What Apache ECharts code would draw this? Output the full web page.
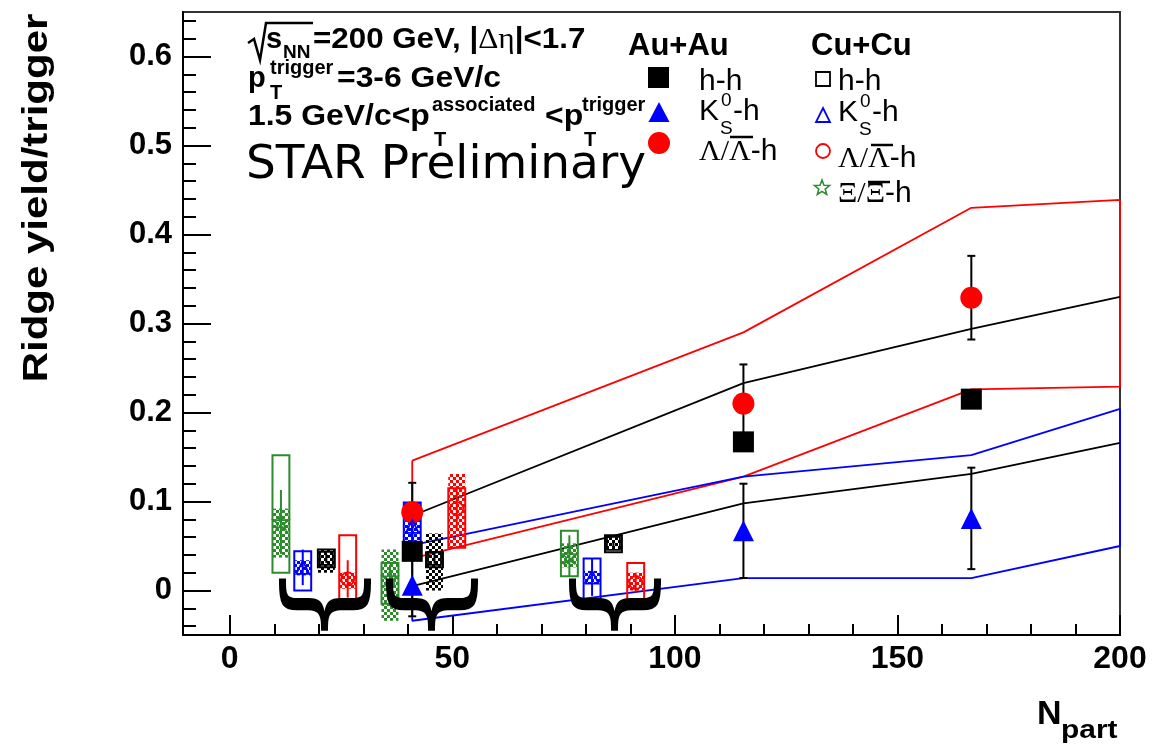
<!DOCTYPE html>
<html>
<head>
<meta charset="utf-8">
<script src="https://cdn.jsdelivr.net/npm/echarts@6/dist/echarts.min.js"></script>
<style>
html, body { margin: 0; padding: 0; background: #fff; }
#main { width: 1156px; height: 747px; }
</style>
</head>
<body>
<div id="main"></div>
<script>
// axis ticks
var xLabels = [0, 50, 100, 150, 200];
var xMinor = [0, 10, 20, 30, 40, 50, 60, 70, 80, 90, 100, 110, 120, 130, 140, 150, 160, 170, 180, 190, 200];
var yLabels = [0, 0.1, 0.2, 0.3, 0.4, 0.5, 0.6];
var yMinor = [-0.04, -0.02, 0, 0.02, 0.04, 0.06, 0.08, 0.1, 0.12, 0.14, 0.16, 0.18, 0.2, 0.22, 0.24, 0.26, 0.28,
	0.3, 0.32, 0.34, 0.36, 0.38, 0.4, 0.42, 0.44, 0.46, 0.48, 0.5, 0.52, 0.54, 0.56, 0.58, 0.6, 0.62, 0.64];

// Au+Au : [Npart, yield, error]
var auHH = [[41, 0.044, 0], [115.4, 0.167, 0], [166.6, 0.215, 0]];
var auK0s = [[41, 0.006, 0.035], [115.4, 0.067, 0.053], [166.6, 0.081, 0.057]];
var auLambda = [[41, 0.088, 0.033], [115.4, 0.210, 0.044], [166.6, 0.329, 0.047]];

// Cu+Cu : [Npart, yield, error, box low, box high, hatch low, hatch high]
var cuHH = [[21.7, 0.036, 0.005, 0.026, 0.046, 0.020, 0.046], [46, 0.036, 0.006, 0.026, 0.043, 0.0, 0.064], [86.2, 0.053, 0.003, 0.043, 0.062, 0.046, 0.060]];
var cuK0s = [[16.4, 0.026, 0.020, 0.0, 0.044, 0.017, 0.034], [41, 0.072, 0.020, 0.054, 0.099, 0.054, 0.099], [81.4, 0.015, 0.021, -0.015, 0.036, 0.008, 0.022]];
var cuLambda = [[26.5, 0.013, 0.021, -0.012, 0.062, 0.002, 0.020], [51, 0.092, 0.025, 0.048, 0.115, 0.048, 0.131], [91.2, 0.009, 0.011, -0.012, 0.031, 0.0, 0.020]];
var cuXi = [[11.5, 0.077, 0.036, 0.020, 0.152, 0.037, 0.092], [36, 0.014, 0.015, -0.015, 0.031, -0.034, 0.046], [76.3, 0.039, 0.023, 0.016, 0.067, 0.026, 0.053]];

// model bands
var bandNpart = [41, 115.4, 166.6, 200];
var lambdaHigh = [0.146, 0.290, 0.430, 0.439];
var lambdaLow = [0.036, 0.128, 0.226, 0.229];
var hhHigh = [0.084, 0.233, 0.294, 0.330];
var hhLow = [0.005, 0.098, 0.131, 0.166];
var k0sHigh = [0.051, 0.128, 0.152, 0.204];
var k0sLow = [-0.034, 0.014, 0.014, 0.050];

// centrality braces under the Cu+Cu groups
var braces = [[20.6, -0.016], [44.6, -0.016], [85.6, -0.016]];

var BOX_HALF = 1.9;
var RED = '#ff0000', BLUE = '#0000ff', BLACK = '#000000', GREEN = '#2d8a2d';
var STAR = 'path://M0,-10L2.35,-3.24L9.51,-3.09L3.8,1.24L5.88,8.09L0,4L-5.88,8.09L-3.8,1.24L-9.51,-3.09L-2.35,-3.24Z';

function hatch(color) {
	var c = document.createElement('canvas');
	c.width = 6;
	c.height = 6;
	var g = c.getContext('2d');
	g.fillStyle = color;
	g.fillRect(0, 0, 3, 3);
	g.fillRect(3, 3, 3, 3);
	return { image: c, repeat: 'repeat' };
}

function pairs(xs, ys) {
	return xs.map(function(x, i) { return [x, ys[i]]; });
}

function closedBand(hi, lo) {
	var up = pairs(bandNpart, hi);
	var down = pairs(bandNpart, lo).reverse();
	return up.concat(down, [up[0]]);
}

function bandSeries(data, color) {
	return {
		type: 'line', data: data, showSymbol: false, silent: true,
		lineStyle: { color: color, width: 1.8 }, z: 1
	};
}

function boxSeries(rows, color, lo, hi, hatched) {
	return {
		type: 'custom', data: rows, silent: true, z: 2,
		renderItem: function(params, api) {
			var x = api.value(0);
			var a = api.coord([x - BOX_HALF, api.value(hi)]);
			var b = api.coord([x + BOX_HALF, api.value(lo)]);
			return {
				type: 'rect',
				shape: { x: a[0], y: a[1], width: b[0] - a[0], height: b[1] - a[1] },
				style: hatched ? { fill: hatch(color), stroke: null } : { fill: 'none', stroke: color, lineWidth: 2 }
			};
		}
	};
}

function errSeries(rows, color, cap) {
	return {
		type: 'custom', data: rows, silent: true, z: 2,
		renderItem: function(params, api) {
			var x = api.value(0), y = api.value(1), e = api.value(2);
			if (!e) return null;
			var t = api.coord([x, y + e]);
			var b = api.coord([x, y - e]);
			var kids = [{ type: 'line', shape: { x1: t[0], y1: t[1], x2: b[0], y2: b[1] }, style: { stroke: color, lineWidth: 2 } }];
			if (cap) {
				kids.push({ type: 'line', shape: { x1: t[0] - cap, y1: t[1], x2: t[0] + cap, y2: t[1] }, style: { stroke: color, lineWidth: 2 } });
				kids.push({ type: 'line', shape: { x1: b[0] - cap, y1: b[1], x2: b[0] + cap, y2: b[1] }, style: { stroke: color, lineWidth: 2 } });
			}
			return { type: 'group', children: kids };
		}
	};
}

function markerSeries(rows, symbol, size, color, open) {
	return {
		type: 'scatter', data: rows, symbol: symbol, symbolSize: size, silent: true, z: 2,
		itemStyle: open ? { color: 'rgba(0,0,0,0)', borderColor: color, borderWidth: 1.8, opacity: 1 } : { color: color, opacity: 1 }
	};
}

function txt(x, y, text, size, o) {
	o = o || {};
	return {
		type: 'text', x: x, y: y, scaleX: o.sx || 1, rotation: o.rot || 0, silent: true,
		style: {
			text: text, fontSize: size, fontWeight: o.bold ? 'bold' : 'normal',
			fontFamily: o.family || 'Liberation Sans', fill: '#000', rich: o.rich,
			textAlign: o.align || 'left', align: o.align || 'left',
			textVerticalAlign: 'middle', verticalAlign: 'middle'
		}
	};
}

function starPoints(cx, cy, r) {
	var pts = [];
	for (var i = 0; i < 10; i++) {
		var ang = -Math.PI / 2 + i * Math.PI / 5;
		var rr = i % 2 ? r * 0.42 : r;
		pts.push([cx + rr * Math.cos(ang), cy + rr * Math.sin(ang)]);
	}
	return pts;
}

var richLine = {
	b: { fontSize: 29, fontWeight: 'bold', fontFamily: 'Liberation Sans' },
	g: { fontSize: 29, fontFamily: 'Liberation Serif' }
};
var richLeg = {
	g: { fontSize: 30, fontFamily: 'Liberation Serif' },
	r: { fontSize: 30, fontFamily: 'Liberation Sans' }
};

var graphics = [
	// header lines
	{ type: 'polyline', silent: true, shape: { points: [[248, 43], [254, 39], [260, 60], [266, 23], [313, 23]] }, style: { stroke: '#000', lineWidth: 2.5, fill: null } },
	txt(266, 40, 's', 29, { bold: true }),
	txt(283, 53, 'NN', 19, { bold: true }),
	txt(313, 40, '{b|=200 GeV, |}{g|Δη}{b||<1.7}', 29, { sx: 1.08, rich: richLine }),
	txt(248, 79, 'p', 29, { bold: true }),
	txt(270, 68, 'trigger', 20, { bold: true }),
	txt(270, 93, 'T', 20, { bold: true }),
	txt(337, 79, '=3-6 GeV/c', 29, { bold: true, sx: 1.1 }),
	txt(248, 117, '1.5 GeV/c<p', 29, { bold: true, sx: 1.1 }),
	txt(432, 105, 'associated', 20, { bold: true }),
	txt(434, 140, 'T', 20, { bold: true }),
	txt(545, 117, '<p', 29, { bold: true, sx: 1.1 }),
	txt(582, 105, 'trigger', 20, { bold: true }),
	txt(584, 140, 'T', 20, { bold: true }),
	txt(246, 166, 'STAR Preliminary', 47, { family: 'DejaVu Sans' }),

	// legend Au+Au
	txt(628, 46, 'Au+Au', 31, { bold: true }),
	{ type: 'rect', silent: true, shape: { x: 648, y: 67, width: 21, height: 21 }, style: { fill: BLACK } },
	{ type: 'polygon', silent: true, shape: { points: [[659, 102], [669.5, 122], [648.5, 122]] }, style: { fill: BLUE } },
	{ type: 'circle', silent: true, shape: { cx: 659, cy: 143, r: 11 }, style: { fill: RED } },
	txt(699, 82, 'h-h', 30),
	txt(699, 112, 'K', 30),
	txt(721, 101, '0', 19),
	txt(720, 129, 'S', 19),
	txt(733, 112, '-h', 30),
	txt(699, 152, '{g|Λ/Λ}{r|-h}', 30, { rich: richLeg }),
	{ type: 'line', silent: true, shape: { x1: 730, y1: 137, x2: 753, y2: 137 }, style: { stroke: '#000', lineWidth: 2.5 } },

	// legend Cu+Cu
	txt(811, 46, 'Cu+Cu', 31, { bold: true }),
	{ type: 'rect', silent: true, shape: { x: 816, y: 72, width: 14, height: 14 }, style: { fill: 'none', stroke: BLACK, lineWidth: 1.8 } },
	{ type: 'polygon', silent: true, shape: { points: [[823, 108], [830, 122], [816, 122]] }, style: { fill: 'none', stroke: BLUE, lineWidth: 1.8 } },
	{ type: 'circle', silent: true, shape: { cx: 823, cy: 151, r: 7 }, style: { fill: 'none', stroke: RED, lineWidth: 1.8 } },
	{ type: 'polygon', silent: true, shape: { points: starPoints(822, 188, 8) }, style: { fill: 'none', stroke: GREEN, lineWidth: 1.5 } },
	txt(838, 82, 'h-h', 30),
	txt(838, 113, 'K', 30),
	txt(860, 102, '0', 19),
	txt(859, 130, 'S', 19),
	txt(872, 113, '-h', 30),
	txt(838, 159, '{g|Λ/Λ}{r|-h}', 30, { rich: richLeg }),
	{ type: 'line', silent: true, shape: { x1: 871, y1: 145, x2: 893, y2: 145 }, style: { stroke: '#000', lineWidth: 2.5 } },
	txt(838, 194, '{g|Ξ/Ξ}{r|-h}', 30, { rich: richLeg }),
	{ type: 'line', silent: true, shape: { x1: 868, y1: 182, x2: 890, y2: 182 }, style: { stroke: '#000', lineWidth: 2.5 } },

	// axis titles
	txt(37, 198, 'Ridge yield/trigger', 35, { bold: true, rot: Math.PI / 2, align: 'center', sx: 1.2 }),
	txt(1037, 715, 'N', 34, { bold: true }),
	txt(1061, 731, 'part', 26, { bold: true, sx: 1.15 })
];

var axisFont = { fontFamily: 'Liberation Sans', fontWeight: 'bold', color: '#000' };

var option = {
	animation: false,
	backgroundColor: '#fff',
	grid: { left: 183, right: 36, top: 12, bottom: 112, show: true, borderColor: '#333', borderWidth: 2 },
	xAxis: [{
		type: 'value', min: -10.5, max: 200, position: 'bottom',
		axisLine: { onZero: false, lineStyle: { color: '#000', width: 2 } },
		axisTick: { inside: true, length: 20, customValues: xLabels, lineStyle: { color: '#000', width: 2 } },
		axisLabel: Object.assign({ customValues: xLabels, fontSize: 32, margin: 8 }, axisFont),
		splitLine: { show: false }
	}, {
		type: 'value', min: -10.5, max: 200, position: 'bottom',
		axisLine: { show: false, onZero: false },
		axisTick: { inside: true, length: 11, customValues: xMinor, lineStyle: { color: '#000', width: 2 } },
		axisLabel: { show: false },
		splitLine: { show: false }
	}],
	yAxis: [{
		type: 'value', min: -0.05, max: 0.65, position: 'left',
		axisLine: { show: true, onZero: false, lineStyle: { color: '#000', width: 2 } },
		axisTick: { show: true, inside: true, length: 28, customValues: yLabels, lineStyle: { color: '#000', width: 2 } },
		axisLabel: Object.assign({ customValues: yLabels, fontSize: 31, margin: 11 }, axisFont),
		splitLine: { show: false }
	}, {
		type: 'value', min: -0.05, max: 0.65, position: 'left',
		axisLine: { show: false, onZero: false },
		axisTick: { show: true, inside: true, length: 13, customValues: yMinor, lineStyle: { color: '#000', width: 2 } },
		axisLabel: { show: false },
		splitLine: { show: false }
	}],
	graphic: graphics,
	series: [
		bandSeries(closedBand(lambdaHigh, lambdaLow), RED),
		bandSeries(closedBand(k0sHigh, k0sLow), BLUE),
		bandSeries(pairs(bandNpart, hhHigh), BLACK),
		bandSeries(pairs(bandNpart, hhLow), BLACK),

		// Au+Au first so the Cu+Cu boxes overlay it near Npart 41
		errSeries(auLambda, BLACK, 4),
		errSeries(auK0s, BLACK, 4),
		markerSeries(auLambda, 'circle', 22, RED, false),
		markerSeries(auHH, 'rect', 21, BLACK, false),
		markerSeries(auK0s, 'triangle', 21, BLUE, false),

		boxSeries(cuXi, GREEN, 5, 6, true),
		boxSeries(cuK0s, BLUE, 5, 6, true),
		boxSeries(cuHH, BLACK, 5, 6, true),
		boxSeries(cuLambda, RED, 5, 6, true),
		boxSeries(cuXi, GREEN, 3, 4, false),
		boxSeries(cuK0s, BLUE, 3, 4, false),
		boxSeries(cuHH, BLACK, 3, 4, false),
		boxSeries(cuLambda, RED, 3, 4, false),

		errSeries(cuXi, GREEN, 0),
		errSeries(cuK0s, BLUE, 0),
		errSeries(cuHH, BLACK, 0),
		errSeries(cuLambda, RED, 0),
		markerSeries(cuXi, STAR, 15, GREEN, true),
		markerSeries(cuK0s, 'triangle', 13, BLUE, true),
		markerSeries(cuHH, 'rect', 13, BLACK, true),
		markerSeries(cuLambda, 'circle', 13, RED, true),

		{
			type: 'custom', data: braces, silent: true, z: 10,
			renderItem: function(params, api) {
				var p = api.coord([api.value(0), api.value(1)]);
				return {
					type: 'text', x: p[0], y: p[1], rotation: -Math.PI / 2, scaleX: 1.35,
					style: {
						text: '}', fontSize: 100, fontFamily: 'DejaVu Sans', fill: '#000',
						align: 'center', verticalAlign: 'middle', textAlign: 'center', textVerticalAlign: 'middle'
					}
				};
			}
		}
	]
};

var chart = echarts.init(document.getElementById('main'));
chart.setOption(option);
</script>
</body>
</html>
